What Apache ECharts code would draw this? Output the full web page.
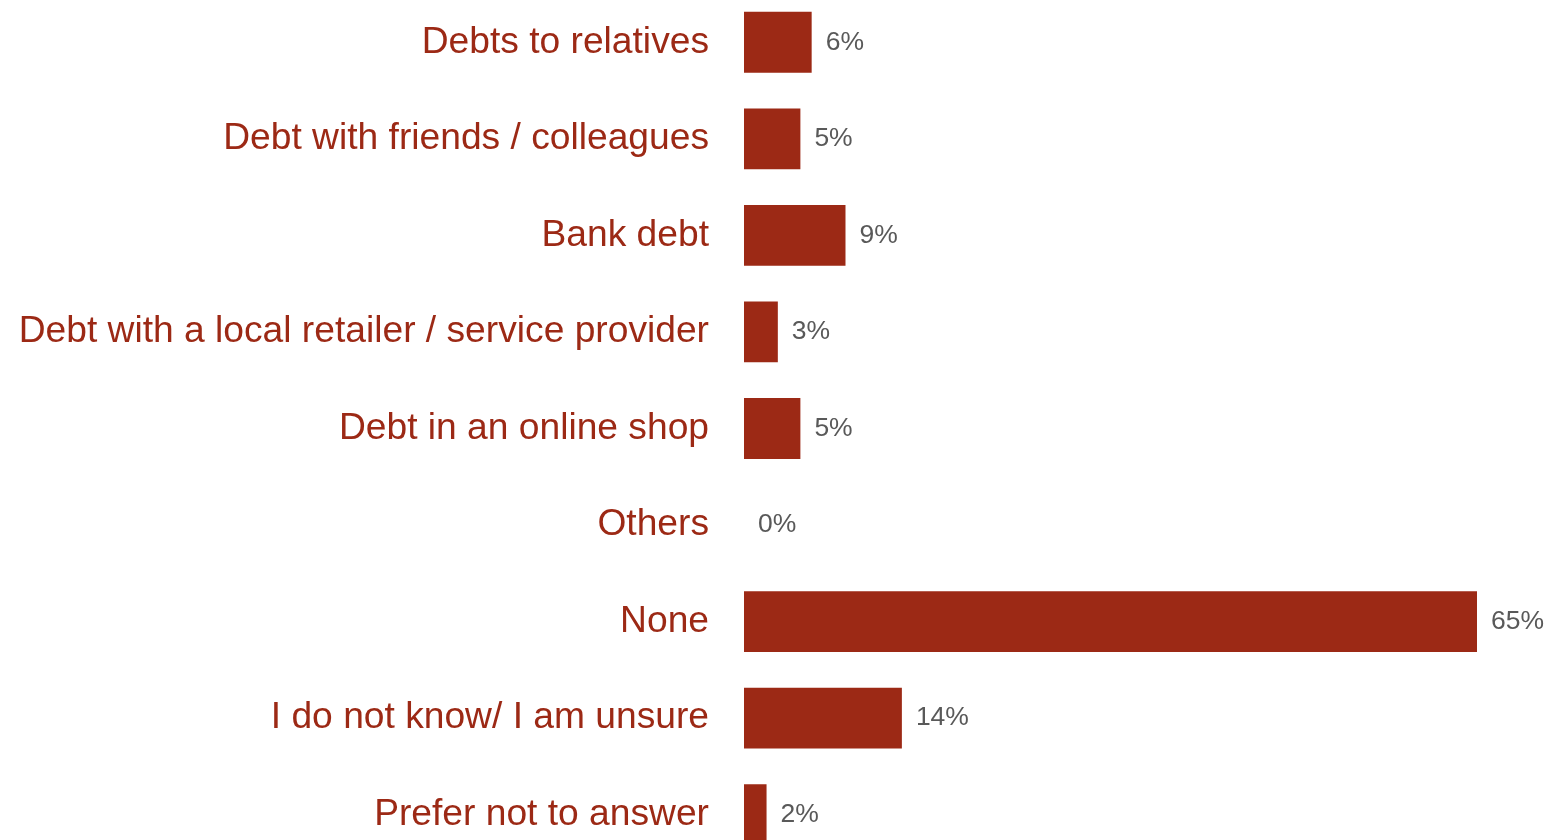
<!DOCTYPE html>
<html>
<head>
<meta charset="utf-8">
<script src="https://cdn.jsdelivr.net/npm/echarts@6/dist/echarts.min.js"></script>
<style>
  html, body { margin: 0; padding: 0; background: #ffffff; }
  #chart { width: 1549px; height: 840px; }
</style>
</head>
<body>
<div id="chart"></div>
<script>
// Types of debt held by respondents (share, %)
const categories = [
  'Debts to relatives',
  'Debt with friends / colleagues',
  'Bank debt',
  'Debt with a local retailer / service provider',
  'Debt in an online shop',
  'Others',
  'None',
  'I do not know/ I am unsure',
  'Prefer not to answer'
];
const shares = [6, 5, 9, 3, 5, 0, 65, 14, 2];

const barColor = '#9c2915';
const chart = echarts.init(document.getElementById('chart'), null, { renderer: 'canvas' });

chart.setOption({
  animation: false,
  backgroundColor: '#ffffff',
  grid: {
    left: 744, top: -6, width: 733, height: 869,
    containLabel: false,
    outerBoundsMode: 'none'
  },
  xAxis: {
    type: 'value', min: 0, max: 65,
    show: false
  },
  yAxis: {
    type: 'category',
    data: categories,
    inverse: true,
    axisLine: { show: false },
    axisTick: { show: false },
    splitLine: { show: false },
    axisLabel: {
      margin: 35,
      color: barColor,
      fontFamily: '"Liberation Sans", Arial, sans-serif',
      fontSize: 37.2
    }
  },
  series: [{
    type: 'bar',
    data: shares,
    barCategoryGap: '37%',
    itemStyle: { color: barColor },
    label: {
      show: true,
      position: 'right',
      distance: 14,
      formatter: '{c}%',
      color: '#595959',
      fontFamily: '"Liberation Sans", Arial, sans-serif',
      fontSize: 26.5
    }
  }]
});
</script>
</body>
</html>
